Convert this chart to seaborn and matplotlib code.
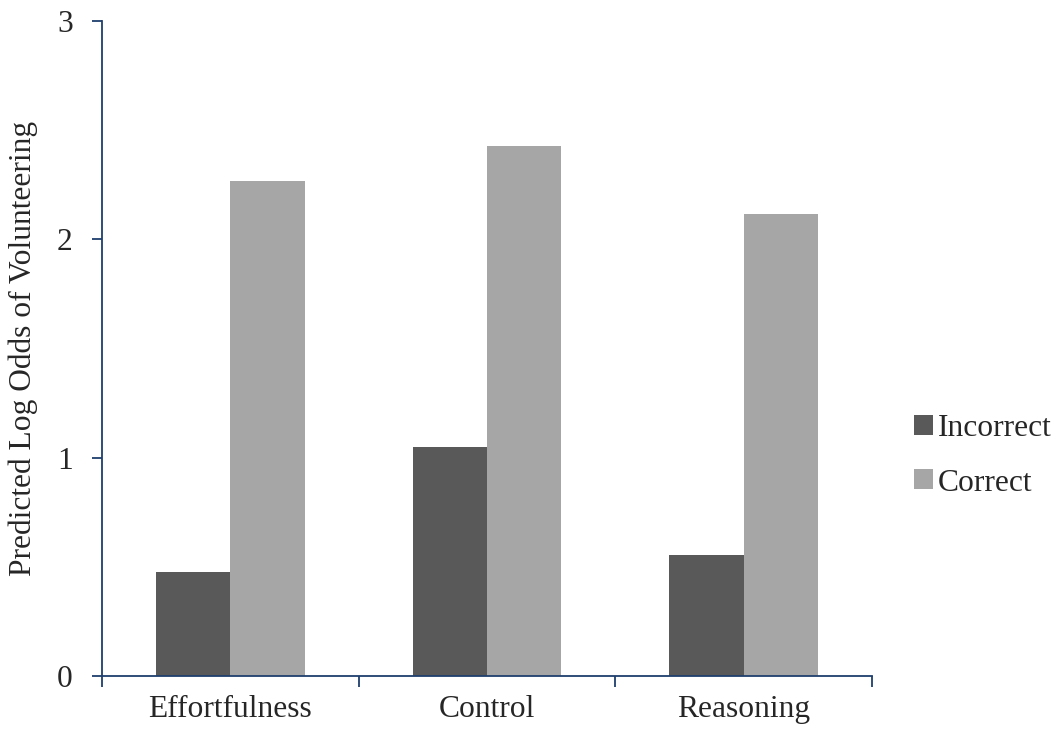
import pandas as pd
import matplotlib.pyplot as plt
import seaborn as sns

categories = ['Effortfulness', 'Control', 'Reasoning']
incorrect = [0.476, 1.049, 0.554]
correct = [2.267, 2.428, 2.116]

df = pd.DataFrame({
    'Condition': categories * 2,
    'Answer': ['Incorrect'] * 3 + ['Correct'] * 3,
    'LogOdds': incorrect + correct,
})

sns.set_style('white')
plt.rcParams['font.family'] = ['Liberation Serif', 'DejaVu Serif']
axis_col = '#1F3F6E'

fig = plt.figure(figsize=(10.59, 7.31), dpi=100)
ax = fig.add_axes([0.0963, 0.0752, 0.7271, 0.8961])
sns.barplot(data=df, x='Condition', y='LogOdds', hue='Answer',
            palette=['#595959', '#A6A6A6'], width=0.58, saturation=1,
            errorbar=None, linewidth=0, ax=ax)

ax.set_xlim(-0.5, 2.5)
ax.set_ylim(0, 3)
ax.set_yticks([0, 1, 2, 3])
ax.set_xlabel('')
ax.set_ylabel('Predicted Log Odds of Volunteering', fontsize=22.7, labelpad=14)

for s in ['top', 'right']:
    ax.spines[s].set_visible(False)
for s in ['left', 'bottom']:
    ax.spines[s].set_color(axis_col)
    ax.spines[s].set_linewidth(1.3)

ax.set_xticks([-0.5, 0.5, 1.5, 2.5], minor=True)
ax.tick_params(axis='x', which='major', bottom=True, length=0, labelsize=22.7, pad=14)
ax.tick_params(axis='x', which='minor', bottom=True, length=8, width=1.3,
               color=axis_col, direction='out')
ax.tick_params(axis='y', left=True, length=7, width=1.3, color=axis_col,
               direction='out', labelsize=22.7, pad=14)

leg = ax.legend(loc='center left', bbox_to_anchor=(1.018, 0.336), frameon=False,
                fontsize=22.7, handlelength=0.6, handleheight=0.6,
                handletextpad=0.15, labelspacing=0.8)

fig.savefig('out.png', dpi=100)
